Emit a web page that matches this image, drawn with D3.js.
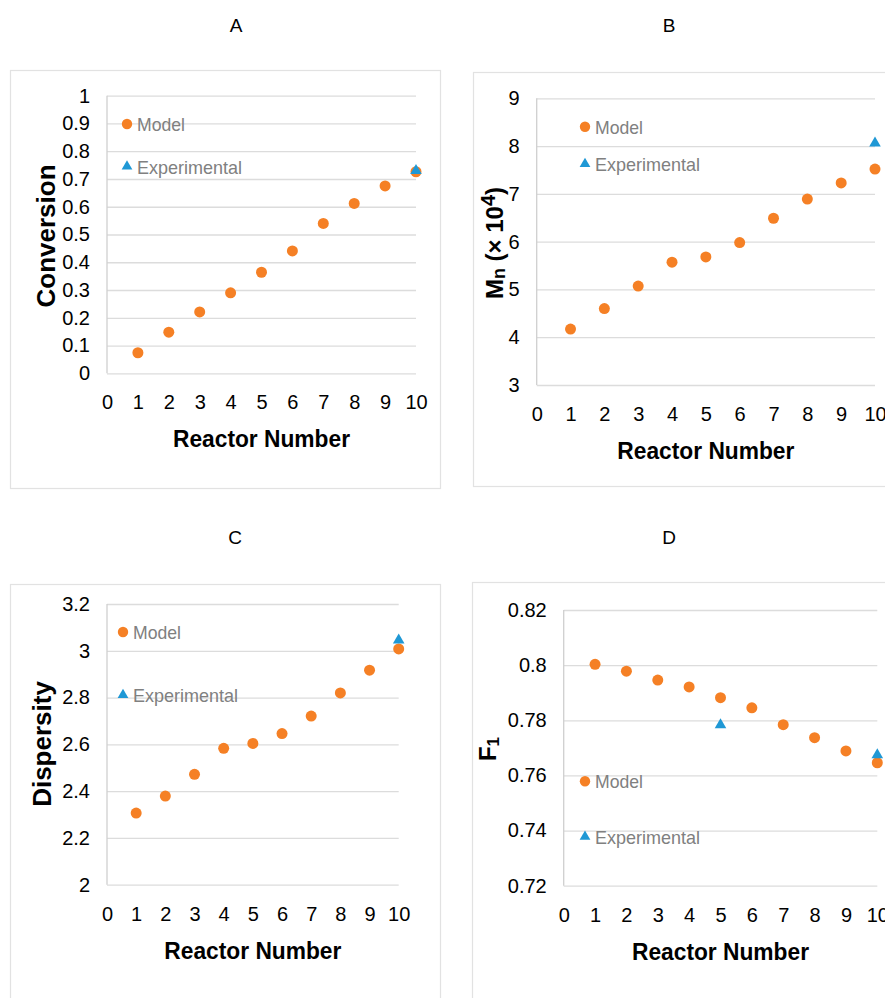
<!DOCTYPE html>
<html>
<head>
<meta charset="utf-8">
<script src="https://cdn.jsdelivr.net/npm/d3@7"></script>
<style>
  html, body { margin: 0; padding: 0; background: #fff; }
  svg { display: block; font-family: "Liberation Sans", Arial, sans-serif; }
</style>
</head>
<body>
<svg id="chart" width="885" height="998"></svg>
<script>
// Reactor positions along the train
const reactors = [1, 2, 3, 4, 5, 6, 7, 8, 9, 10];
const xTicks = [0, 1, 2, 3, 4, 5, 6, 7, 8, 9, 10];

// A: monomer conversion
const conversionModel = [0.074, 0.148, 0.221, 0.290, 0.364, 0.441, 0.540, 0.612, 0.675, 0.726];
const conversionExpReactors = [10];
const conversionExp = [0.73];
const conversionTicks = [0, 0.1, 0.2, 0.3, 0.4, 0.5, 0.6, 0.7, 0.8, 0.9, 1];

// B: number-average molecular weight (x 10^4)
const mnModel = [4.17, 4.60, 5.07, 5.57, 5.68, 5.98, 6.49, 6.89, 7.23, 7.52];
const mnExpReactors = [10];
const mnExp = [8.06];
const mnTicks = [3, 4, 5, 6, 7, 8, 9];

// C: dispersity
const dispersityModel = [2.306, 2.379, 2.472, 2.583, 2.604, 2.646, 2.721, 2.820, 2.917, 3.008];
const dispersityExpReactors = [10];
const dispersityExp = [3.045];
const dispersityTicks = [2, 2.2, 2.4, 2.6, 2.8, 3, 3.2];

// D: cumulative copolymer composition F1
const f1Model = [0.8003, 0.7978, 0.7946, 0.7921, 0.7882, 0.7845, 0.7784, 0.7737, 0.7689, 0.7646];
const f1ExpReactors = [5, 10];
const f1Exp = [0.7783, 0.7674];
const f1Ticks = [0.72, 0.74, 0.76, 0.78, 0.8, 0.82];

const panelTitles = ["A", "B", "C", "D"];
const seriesNames = ["Model", "Experimental"];
const xTitle = "Reactor Number";

const ORANGE = "#f58025";
const BLUE = "#1f98d5";
const GRID = "#dcdcdc";
const FRAME = "#e2e2e2";
const LEGEND_TEXT = "#808080";

const svg = d3.select("#chart");
const fmt = d3.format("~g");

const panels = [
  { title: panelTitles[0], titlePos: [236, 32],
    frame: [10, 70, 430, 418],
    plot: { left: 107, right: 416, top: 95.7, bottom: 373.3 },
    model: conversionModel, expX: conversionExpReactors, exp: conversionExp,
    ticks: conversionTicks, yLabel: "conversion", yLabelPos: [46, 236],
    legend: { x: 127, y1: 124, y2: 166.5 } },
  { title: panelTitles[1], titlePos: [669, 32],
    frame: [473, 72, 430, 414],
    plot: { left: 536.7, right: 875, top: 98.3, bottom: 385 },
    model: mnModel, expX: mnExpReactors, exp: mnExp,
    ticks: mnTicks, yLabel: "mn", yLabelPos: [494, 243],
    legend: { x: 585, y1: 126.7, y2: 164 } },
  { title: panelTitles[2], titlePos: [235, 544],
    frame: [10, 584, 430, 430],
    plot: { left: 107, right: 398.7, top: 604, bottom: 884.7 },
    model: dispersityModel, expX: dispersityExpReactors, exp: dispersityExp,
    ticks: dispersityTicks, yLabel: "dispersity", yLabelPos: [42, 744],
    legend: { x: 123, y1: 632, y2: 695 } },
  { title: panelTitles[3], titlePos: [669, 544],
    frame: [472, 582, 430, 430],
    plot: { left: 563.7, right: 877.3, top: 610, bottom: 885.7 },
    model: f1Model, expX: f1ExpReactors, exp: f1Exp,
    ticks: f1Ticks, yLabel: "f1", yLabelPos: [487, 749],
    legend: { x: 585, y1: 781.3, y2: 836.7 } }
];

const triangle = d3.symbol().type(d3.symbolTriangle).size(58);
const legendTriangle = d3.symbol().type(d3.symbolTriangle).size(50);

panels.forEach(p => {
  const g = svg.append("g");

  // chart area frame
  g.append("rect")
    .attr("x", p.frame[0] + 0.5).attr("y", p.frame[1] + 0.5)
    .attr("width", p.frame[2]).attr("height", p.frame[3])
    .attr("fill", "none").attr("stroke", FRAME).attr("stroke-width", 1.2);

  // panel letter
  g.append("text")
    .attr("x", p.titlePos[0]).attr("y", p.titlePos[1])
    .attr("text-anchor", "middle")
    .attr("font-size", 19).attr("fill", "#000")
    .text(p.title);

  const x = d3.scaleLinear().domain([0, 10]).range([p.plot.left, p.plot.right]);
  const y = d3.scaleLinear()
    .domain([p.ticks[0], p.ticks[p.ticks.length - 1]])
    .range([p.plot.bottom, p.plot.top]);

  // horizontal gridlines
  const yGrid = d3.axisLeft(y).tickValues(p.ticks)
    .tickSize(-(p.plot.right - p.plot.left)).tickFormat("");
  g.append("g").attr("transform", `translate(${p.plot.left},0)`)
    .call(yGrid)
    .call(s => s.select(".domain").remove())
    .call(s => s.selectAll("line").attr("stroke", GRID).attr("stroke-width", 1.3));

  // left axis line
  g.append("line")
    .attr("x1", p.plot.left).attr("x2", p.plot.left)
    .attr("y1", p.plot.top).attr("y2", p.plot.bottom)
    .attr("stroke", "#cfcfcf").attr("stroke-width", 1.3);

  // y tick labels
  const yAxis = d3.axisLeft(y).tickValues(p.ticks).tickSize(0).tickPadding(17).tickFormat(fmt);
  g.append("g").attr("transform", `translate(${p.plot.left},0)`)
    .call(yAxis)
    .call(s => s.select(".domain").remove())
    .call(s => s.selectAll("text")
      .attr("font-size", 20).attr("fill", "#000")
      .attr("font-family", "'Liberation Sans', Arial, sans-serif"));

  // x tick labels
  const xAxis = d3.axisBottom(x).tickValues(xTicks).tickSize(0).tickPadding(22).tickFormat(fmt);
  g.append("g").attr("transform", `translate(0,${p.plot.bottom})`)
    .call(xAxis)
    .call(s => s.select(".domain").remove())
    .call(s => s.selectAll("text")
      .attr("font-size", 20).attr("fill", "#000")
      .attr("font-family", "'Liberation Sans', Arial, sans-serif"));

  // x axis title
  g.append("text")
    .attr("x", (p.plot.left + p.plot.right) / 2)
    .attr("y", p.plot.bottom + 74)
    .attr("text-anchor", "middle")
    .attr("font-size", 24).attr("font-weight", "bold").attr("fill", "#000")
    .attr("textLength", 177).attr("lengthAdjust", "spacingAndGlyphs")
    .text(xTitle);

  // y axis title
  const yt = g.append("text")
    .attr("transform", `translate(${p.yLabelPos[0]},${p.yLabelPos[1]}) rotate(-90)`)
    .attr("text-anchor", "middle")
    .attr("dominant-baseline", "central")
    .attr("font-size", 26).attr("font-weight", "bold").attr("fill", "#000");
  if (p.yLabel === "conversion") {
    yt.text("Conversion");
  } else if (p.yLabel === "dispersity") {
    yt.text("Dispersity");
  } else if (p.yLabel === "mn") {
    yt.attr("font-size", 24);
    yt.append("tspan").text("M");
    yt.append("tspan").attr("font-size", 18).attr("dy", 5).text("n");
    yt.append("tspan").attr("dy", -5).text(" (× 10");
    yt.append("tspan").attr("font-size", 20).attr("dy", -6).text("4");
    yt.append("tspan").attr("dy", 6).text(")");
  } else if (p.yLabel === "f1") {
    yt.attr("font-size", 24);
    yt.append("tspan").text("F");
    yt.append("tspan").attr("font-size", 17).attr("dy", 6).text("1");
  }

  // model series
  g.append("g").selectAll("circle")
    .data(reactors.map((r, i) => ({ r, v: p.model[i] })))
    .join("circle")
    .attr("cx", d => x(d.r)).attr("cy", d => y(d.v))
    .attr("r", 5.5).attr("fill", ORANGE);

  // experimental series
  g.append("g").selectAll("path")
    .data(p.expX.map((r, i) => ({ r, v: p.exp[i] })))
    .join("path")
    .attr("d", triangle)
    .attr("transform", d => `translate(${x(d.r)},${y(d.v)})`)
    .attr("fill", BLUE);

  // legend
  const lg = g.append("g");
  lg.append("circle").attr("cx", p.legend.x).attr("cy", p.legend.y1).attr("r", 5.2).attr("fill", ORANGE);
  lg.append("path").attr("d", legendTriangle)
    .attr("transform", `translate(${p.legend.x},${p.legend.y2})`).attr("fill", BLUE);
  lg.append("text").attr("x", p.legend.x + 10).attr("y", p.legend.y1 + 7)
    .attr("font-size", 19).attr("fill", LEGEND_TEXT)
    .attr("textLength", 48).attr("lengthAdjust", "spacingAndGlyphs")
    .text(seriesNames[0]);
  lg.append("text").attr("x", p.legend.x + 10).attr("y", p.legend.y2 + 7)
    .attr("font-size", 19).attr("fill", LEGEND_TEXT)
    .attr("textLength", 105).attr("lengthAdjust", "spacingAndGlyphs")
    .text(seriesNames[1]);
});
</script>
</body>
</html>
